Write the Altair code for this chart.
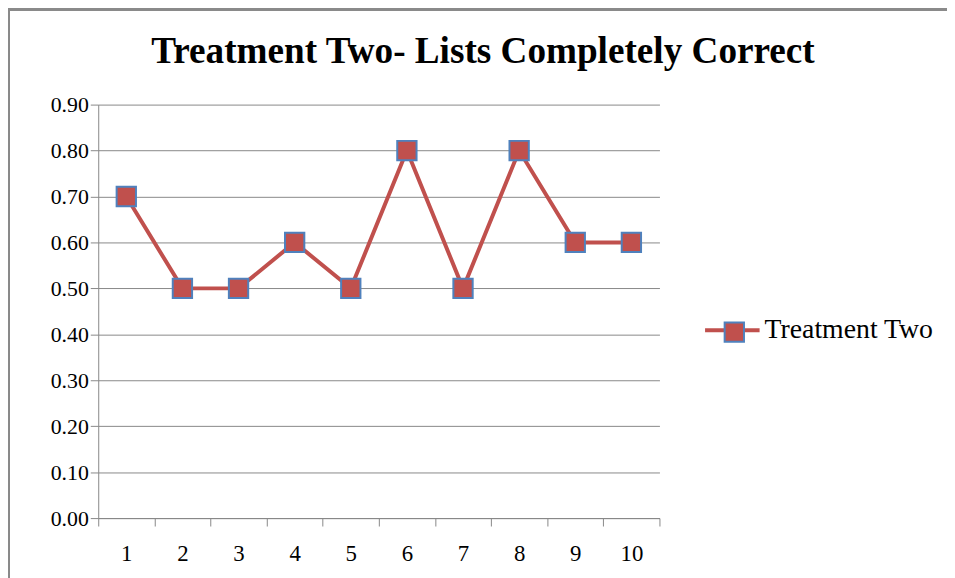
import altair as alt
import pandas as pd

lists = [str(i) for i in range(1, 11)]
scores = [0.70, 0.50, 0.50, 0.60, 0.50, 0.80, 0.50, 0.80, 0.60, 0.60]
series = ["Treatment Two"] * len(lists)
y_ticks = [0.0, 0.1, 0.2, 0.3, 0.4, 0.5, 0.6, 0.7, 0.8, 0.9]
title_text = "Treatment Two- Lists Completely Correct"

df = pd.DataFrame({"list": lists, "score": scores, "series": series})

RED = "#C0504D"
BLUE = "#4F81BD"
GRID = "#888888"
FONT = "Liberation Serif"

x_enc = alt.X("list:O", sort=lists,
              scale=alt.Scale(type="band", paddingInner=0, paddingOuter=0),
              axis=alt.Axis(title=None, labelAngle=0, tickBand="extent", tickSize=8,
                            labelPadding=17, labelFontSize=23, labelFont=FONT,
                            labelColor="#000000", domainColor=GRID, tickColor=GRID,
                            grid=False))
y_enc = alt.Y("score:Q", scale=alt.Scale(domain=[0, 0.9], nice=False),
              axis=alt.Axis(title=None, values=y_ticks, format=".2f", tickSize=8,
                            labelPadding=2, labelFontSize=22, labelFont=FONT,
                            labelColor="#000000", domainColor=GRID, tickColor=GRID,
                            gridColor=GRID, gridWidth=1))

line = alt.Chart(df).mark_line(strokeWidth=4, color=RED).encode(
    x=x_enc, y=y_enc,
    color=alt.Color("series:N", scale=alt.Scale(range=[RED]),
                    legend=alt.Legend(title=None, orient="none", legendX=610, legendY=198,
                                      symbolType="stroke", symbolSize=3025,
                                      symbolStrokeWidth=4, labelFont=FONT,
                                      labelFontSize=28, labelOffset=3, labelLimit=400,
                                      labelColor="#000000")),
)

points = alt.Chart(df).mark_point(shape="square", filled=True, size=380,
                                  stroke=BLUE, strokeWidth=2, opacity=1).encode(
    x=x_enc, y=y_enc,
    fill=alt.Fill("series:N", scale=alt.Scale(range=[RED]),
                  legend=alt.Legend(title=None, orient="none", legendX=627.5, legendY=215.5,
                                    symbolType="square", symbolSize=380,
                                    symbolStrokeColor=BLUE, symbolStrokeWidth=2,
                                    symbolOpacity=1, labelLimit=400, labelExpr="''",
                                    labelFont=FONT, labelFontSize=28, labelOffset=3,
                                    labelColor="transparent")),
)

border = alt.Chart(df).mark_rect(fill=None, stroke="#8a8a8a", strokeWidth=2).encode(
    x=alt.value(-90), x2=alt.value(900), y=alt.value(-96), y2=alt.value(520)
)

title = alt.Chart(pd.DataFrame({"t": [title_text]})).mark_text(
    font=FONT, fontSize=37.5, fontWeight="bold", color="#000000",
    align="center", baseline="alphabetic"
).encode(text="t:N", x=alt.value(388), y=alt.value(-42))

chart = alt.layer(border, title, line, points).resolve_scale(
    color="independent", fill="independent"
).resolve_legend(color="independent", fill="independent").properties(
    width=566, height=417,
    autosize=alt.AutoSizeParams(type="none"),
    padding={"left": 91, "top": 95, "right": 290, "bottom": 58},
).configure_view(stroke=None)

chart.save("out.html", embed_options={"renderer": "svg", "actions": False})
